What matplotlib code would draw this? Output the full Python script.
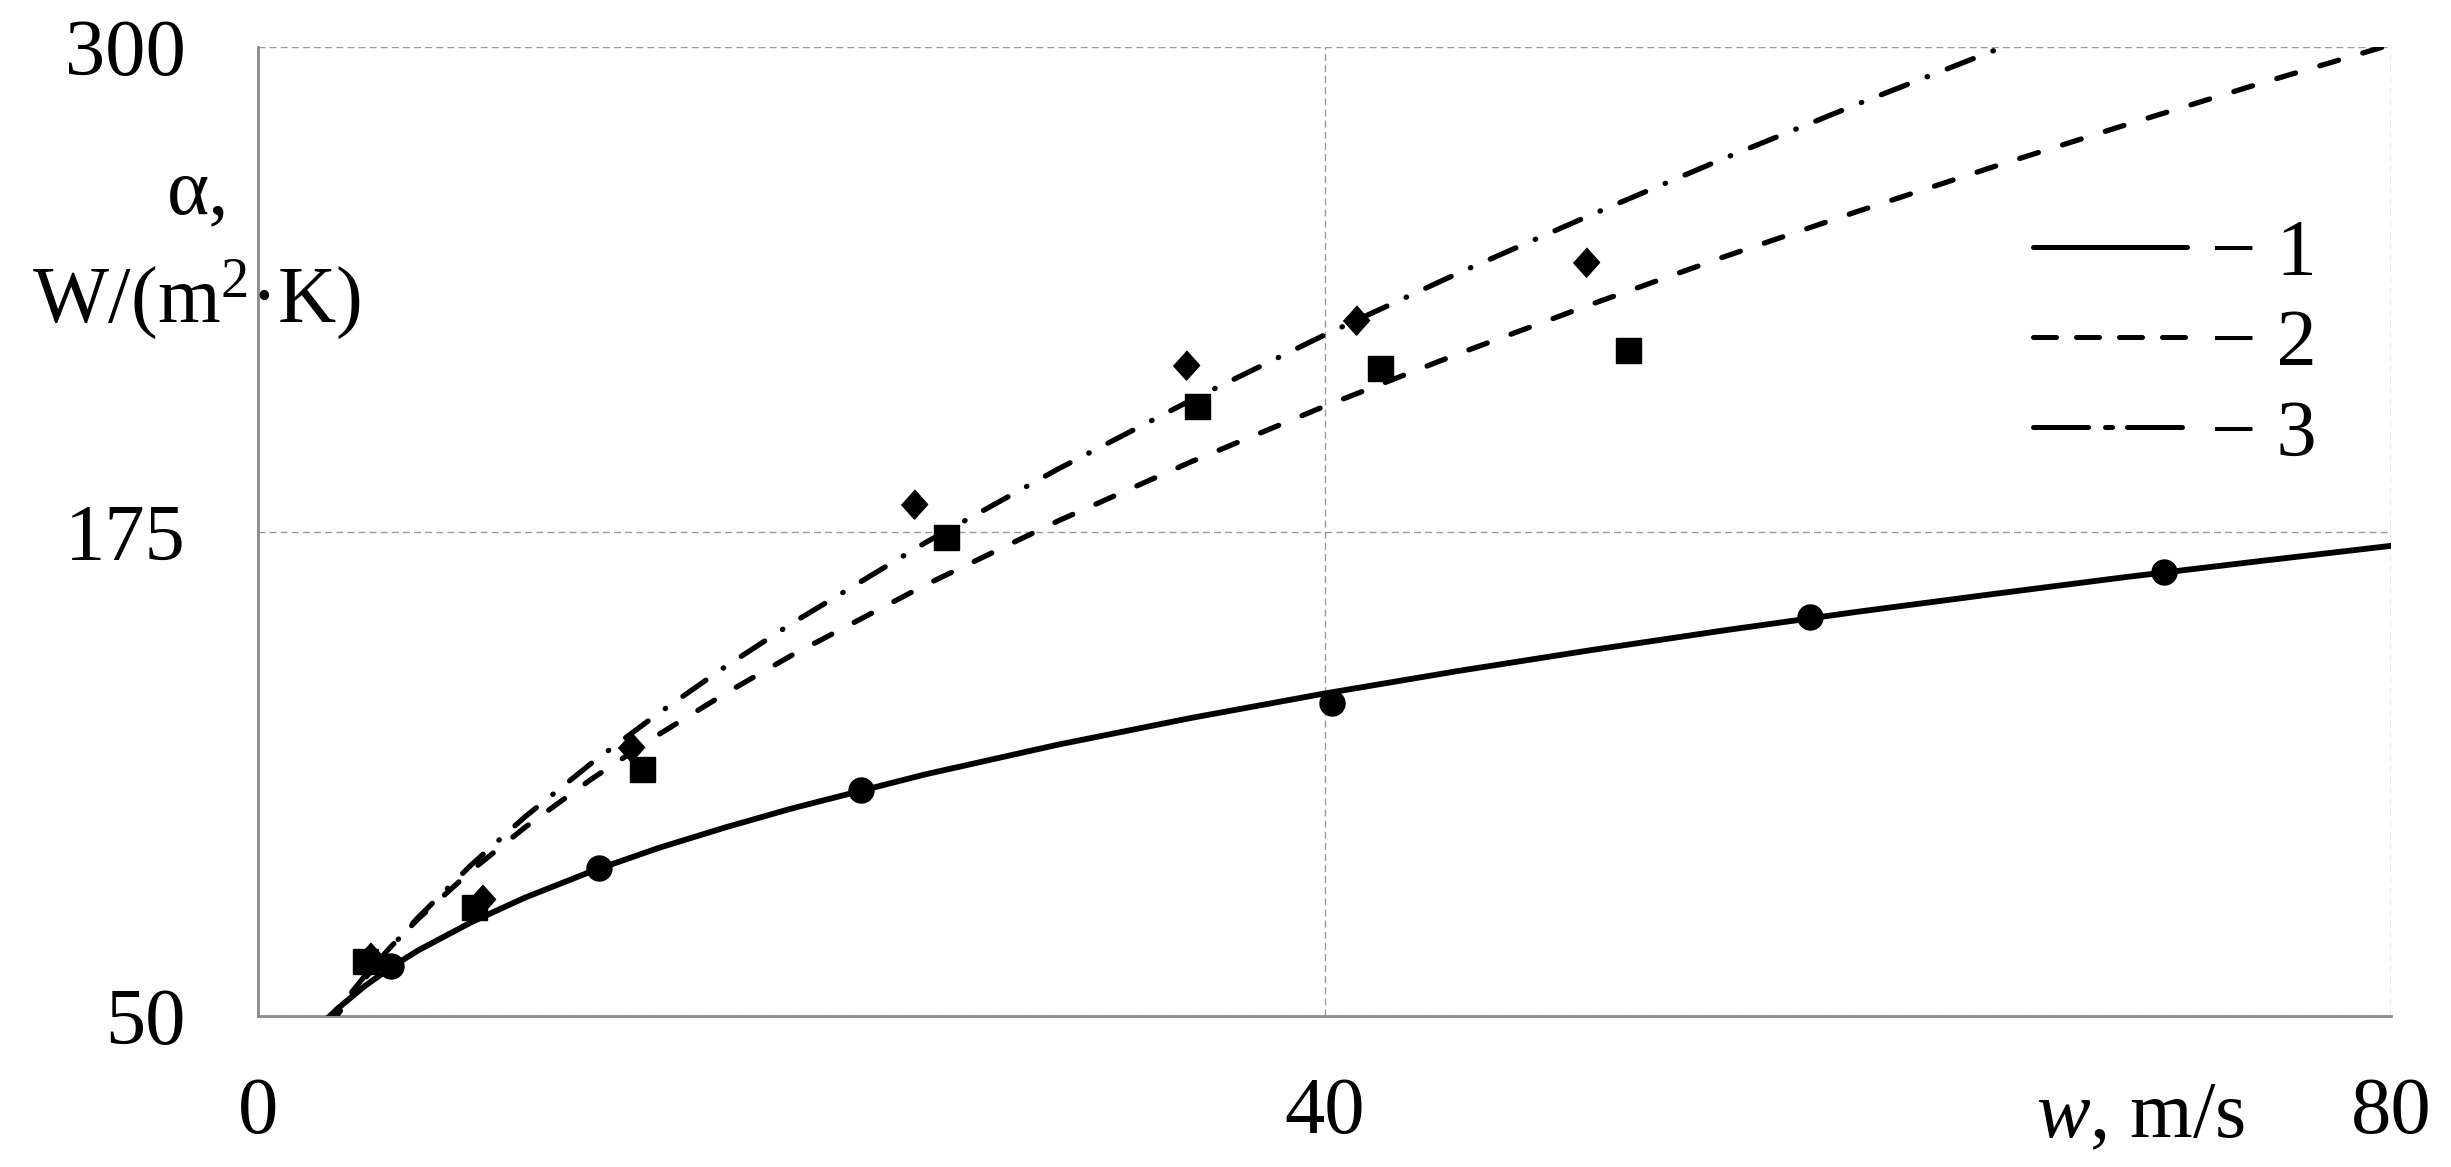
import matplotlib
matplotlib.use("Agg")
import matplotlib.pyplot as plt
from matplotlib.lines import Line2D

plt.rcParams['font.family'] = ['Liberation Serif', 'DejaVu Serif']
plt.rcParams['mathtext.fontset'] = 'custom'
plt.rcParams['mathtext.rm'] = 'Liberation Serif'
plt.rcParams['mathtext.it'] = 'Liberation Serif:italic'

# ---- data ----
# measured points
w_circ = [5.0, 12.8, 22.6, 40.3, 58.2, 71.5]
a_circ = [63.0, 88.2, 108.3, 130.8, 152.9, 164.6]

w_sq = [4.0, 8.1, 14.4, 25.8, 35.2, 42.1, 51.4]
a_sq = [64.2, 78.1, 113.7, 173.6, 207.4, 217.2, 221.8]

w_dia = [4.2, 8.4, 14.0, 24.6, 34.8, 41.2, 49.8]
a_dia = [65.2, 80.2, 119.4, 182.1, 218.0, 229.6, 244.5]

# trend curves
w_curve = [2.5, 3, 4, 5, 6, 8, 10, 12.5, 15, 17.5, 20, 25, 30, 35, 40,
           45, 50, 55, 60, 65, 70, 75, 80]
a_curve1 = [48.7, 52.0, 57.7, 62.6, 66.9, 74.2, 80.5, 87.3, 93.3, 98.6, 103.5,
            112.3, 120.0, 126.9, 133.2, 139.0, 144.4, 149.5, 154.3, 158.8,
            163.2, 167.3, 171.3]
a_curve2 = [46.9, 51.7, 60.3, 68.0, 75.0, 87.5, 98.6, 111.1, 122.5, 133.1, 143.0,
            161.1, 177.7, 193.0, 207.3, 220.8, 233.6, 245.9, 257.6, 268.9,
            279.8, 290.4, 300.6]
w_curve3 = [2.5, 3, 4, 5, 6, 8, 10, 12.5, 15, 17.5, 20, 25, 30, 35, 40,
            45, 50, 55, 60, 65, 70]
a_curve3 = [45.4, 50.5, 59.6, 67.8, 75.4, 89.0, 101.3, 115.2, 128.0, 140.0, 151.2,
            172.0, 191.1, 208.9, 225.7, 241.6, 256.7, 271.3, 285.3, 298.8, 311.9]

x_ticks = [0, 40, 80]
y_ticks = [50, 175, 300]
legend_labels = ['\u2212 1', '\u2212 2', '\u2212 3']

# ---- figure ----
W, H = 2451, 1167
fig = plt.figure(figsize=(W / 100, H / 100), dpi=100)
ax = fig.add_axes([258 / W, 1 - 1016 / H, (2391 - 258) / W, (1016 - 47) / H])

ax.set_xlim(0, 80)
ax.set_ylim(50, 300)
ax.set_xticks(x_ticks)
ax.set_yticks(y_ticks)
ax.set_xticklabels([str(v) for v in x_ticks])
ax.set_yticklabels([str(v) for v in y_ticks])

FS = 58
ax.tick_params(axis='x', length=0, pad=44, labelsize=FS)
ax.tick_params(axis='y', length=0, pad=52, labelsize=FS)

grid_col = '#9a9a9a'
ax.grid(True, color=grid_col, linestyle=(0, (5, 3)), linewidth=1.0)
for s in ['top', 'right']:
    ax.spines[s].set_visible(False)
for s in ['left', 'bottom']:
    ax.spines[s].set_color('#8c8c8c')
    ax.spines[s].set_linewidth(2.0)

# curves
ax.plot(w_curve, a_curve1, color='black', lw=4.2, solid_capstyle='round', zorder=3)
ax.plot(w_curve, a_curve2, color='black', lw=3.8, dash_capstyle='round',
        dashes=(3.7, 4.8), zorder=3)
ax.plot(w_curve3, a_curve3, color='black', lw=3.8, dash_capstyle='round',
        dashes=(5.3, 4.0, 0.1, 4.0), zorder=3)

# markers
ax.plot(w_dia, a_dia, linestyle='none', marker=[(0, 1), (0.9, 0), (0, -1), (-0.9, 0)],
        markersize=21, color='black', zorder=4)
ax.plot(w_sq, a_sq, linestyle='none', marker='s', markersize=18, color='black', zorder=5)
ax.plot(w_circ, a_circ, linestyle='none', marker='o', markersize=18, color='black', zorder=5)

# legend
handles = [
    Line2D([], [], color='black', lw=3.6, solid_capstyle='round'),
    Line2D([], [], color='black', lw=3.6, dash_capstyle='round', dashes=(4.6, 4.0)),
    Line2D([], [], color='black', lw=3.6, dash_capstyle='round', dashes=(11, 3.4, 1.4, 3.0)),
]
leg = ax.legend(handles, legend_labels, loc='center left', bbox_to_anchor=(0.832, 0.692),
                frameon=False, fontsize=FS, handlelength=1.91, handletextpad=0.31,
                labelspacing=0.21, borderpad=0, borderaxespad=0)

# axis labels
fig.text(198 / W, 1 - 213 / H, '\u03b1,', ha='center', va='baseline', fontsize=FS)
fig.text(196 / W, 1 - 323 / H, 'W/(m$^{2}$\u00b7K)', ha='center', va='baseline', fontsize=FS)
fig.text(2141 / W, 1 - 1137 / H, '$\\it{w}$, m/s', ha='center', va='baseline', fontsize=FS)

fig.savefig('out.png', dpi=100)
